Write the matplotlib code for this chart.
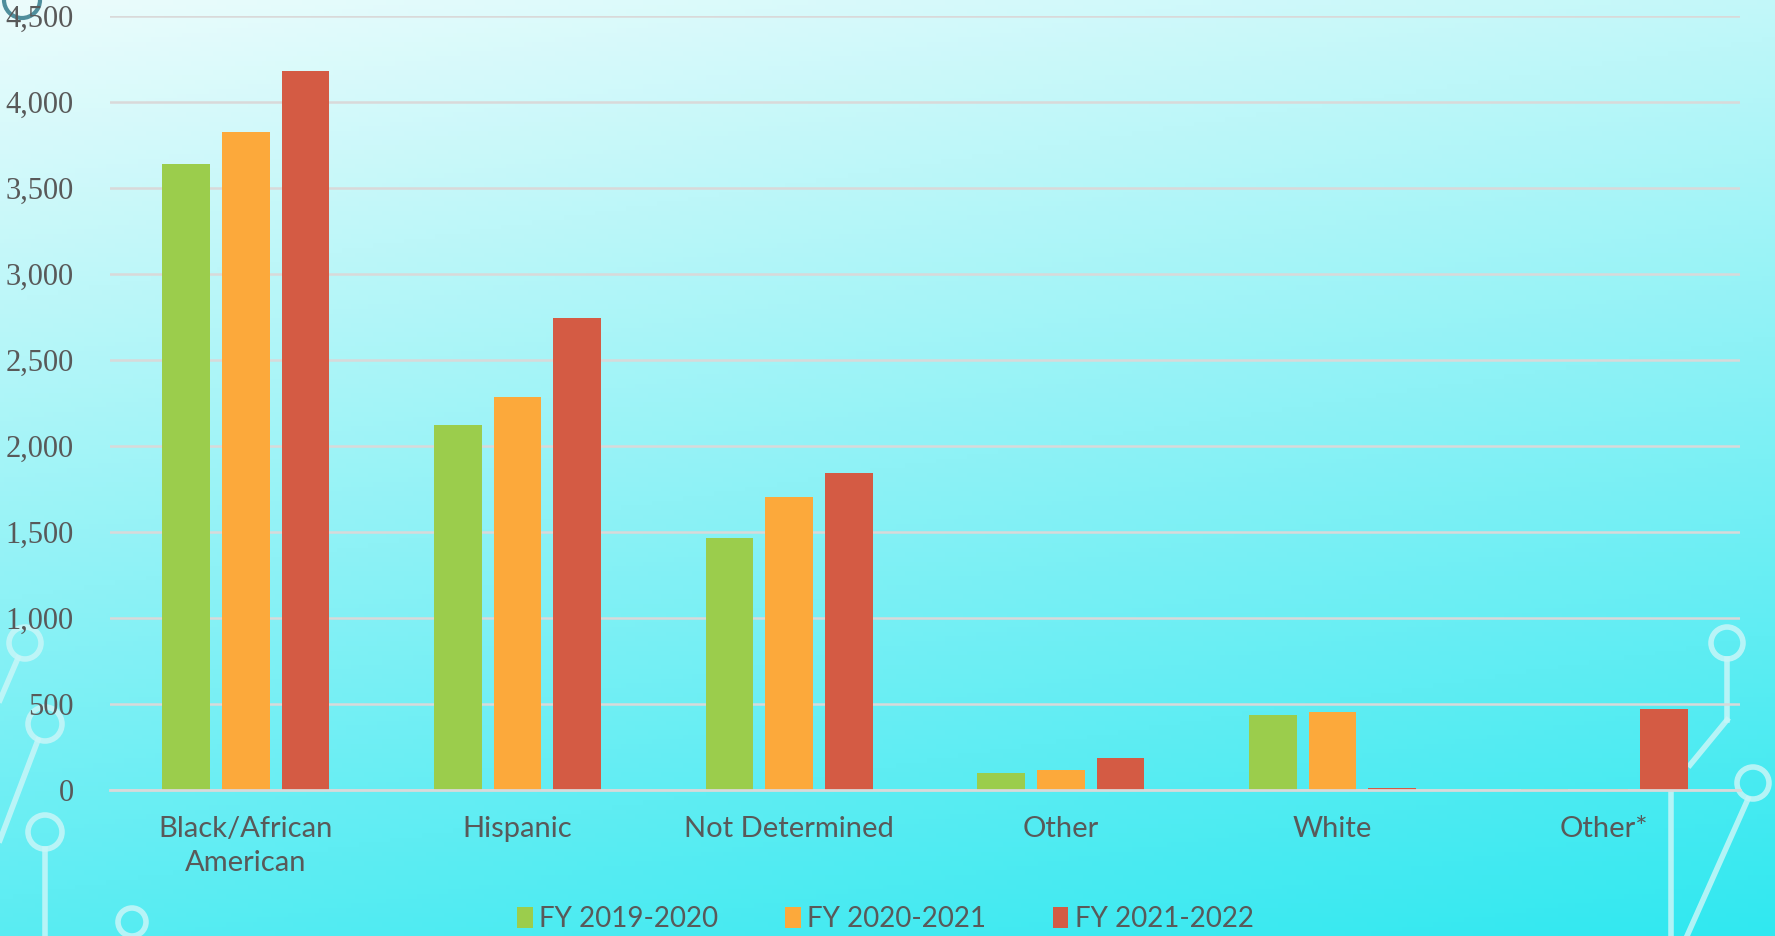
import numpy as np
import matplotlib
matplotlib.use("Agg")
import matplotlib.pyplot as plt
from matplotlib.ticker import FuncFormatter
from matplotlib.patches import Circle

# ---------------------------------------------------------------------------
# Data
# ---------------------------------------------------------------------------
categories = ["Black/African\nAmerican", "Hispanic", "Not Determined", "Other", "White", "Other*"]
series_names = ["FY 2019-2020", "FY 2020-2021", "FY 2021-2022"]
fy_2019_2020 = [3640, 2120, 1467, 98, 434, 3]
fy_2020_2021 = [3823, 2283, 1704, 117, 451, 5]
fy_2021_2022 = [4178, 2744, 1842, 184, 10, 471]
y_ticks = [0, 500, 1000, 1500, 2000, 2500, 3000, 3500, 4000, 4500]

COLORS = ["#9BCD4C", "#FCA93B", "#D45B44"]
TEXT = "#595959"
GRID = "#D9D9D9"

W, H = 1775, 936
fig = plt.figure(figsize=(W / 100, H / 100), dpi=100)

# ── background gradient ────────────────────────────────────────────────────
bg = fig.add_axes([0, 0, 1, 1], zorder=-10)
yy, xx = np.mgrid[0:1:200j, 0:1:400j]
t = np.clip(0.78 * yy + 0.22 * xx, 0, 1)
top = np.array([236, 252, 252]) / 255
bot = np.array([48, 232, 240]) / 255
img = top[None, None, :] * (1 - t[..., None]) + bot[None, None, :] * t[..., None]
bg.imshow(img, aspect="auto", extent=[0, W, H, 0])
bg.set_xlim(0, W)
bg.set_ylim(H, 0)
bg.axis("off")

# decorative circuit lines
deco = dict(color="#C8F6F8", lw=4, alpha=0.85)
for cx, cy, r in [(25, 643, 16), (45, 724, 17), (45, 832, 17), (132, 922, 14),
                  (1727, 643, 16), (1753, 783, 16)]:
    bg.add_patch(Circle((cx, cy), r, fill=False, ec=deco["color"], lw=4, alpha=0.85))
bg.plot([18, 0], [658, 700], **deco)
bg.plot([38, 0], [740, 840], **deco)
bg.plot([45, 45], [849, H], **deco)
bg.plot([1727, 1727], [659, 720], **deco)
bg.plot([1727, 1690], [720, 765], **deco)
bg.plot([1748, 1687], [799, H], **deco)
bg.plot([1671, 1671], [790, H], **deco)
bg.add_patch(Circle((22, 0), 18, fill=False, ec="#4F8E9C", lw=3))

# ── chart ──────────────────────────────────────────────────────────────────
ax = fig.add_axes([110 / W, 1 - 790 / H, 1630 / W, 774 / H])
ax.patch.set_alpha(0)

x = np.arange(len(categories))
width = 0.175
offset = 0.22
for i, (vals, name) in enumerate(zip([fy_2019_2020, fy_2020_2021, fy_2021_2022], series_names)):
    ax.bar(x + (i - 1) * offset, vals, width, color=COLORS[i], label=name, zorder=3)

ax.set_xlim(-0.5, len(categories) - 0.5)
ax.set_ylim(0, 4500)
ax.set_yticks(y_ticks)
ax.yaxis.set_major_formatter(FuncFormatter(lambda v, p: f"{int(v):,}"))
ax.set_xticks(x)
ax.set_xticklabels(categories, fontsize=21, color=TEXT, family="Lato", linespacing=1.38)
for lab in ax.get_yticklabels():
    lab.set_family("Liberation Serif")
    lab.set_fontsize(22)
    lab.set_color(TEXT)
ax.tick_params(axis="both", length=0)
ax.tick_params(axis="y", pad=26)
ax.tick_params(axis="x", pad=19)

ax.grid(axis="y", color=GRID, lw=1.8, zorder=0)
for s in ["top", "right", "left"]:
    ax.spines[s].set_visible(False)
ax.spines["bottom"].set_color(GRID)
ax.spines["bottom"].set_linewidth(2)
ax.spines["bottom"].set_zorder(4)

fig.legend(loc="center", bbox_to_anchor=(0.499, 0.018), ncol=3, frameon=False,
           prop={"family": "Lato", "size": 20}, labelcolor=TEXT,
           handlelength=0.55, handleheight=0.75, handletextpad=0.25, columnspacing=2.4)

fig.savefig("out.png", dpi=100)
